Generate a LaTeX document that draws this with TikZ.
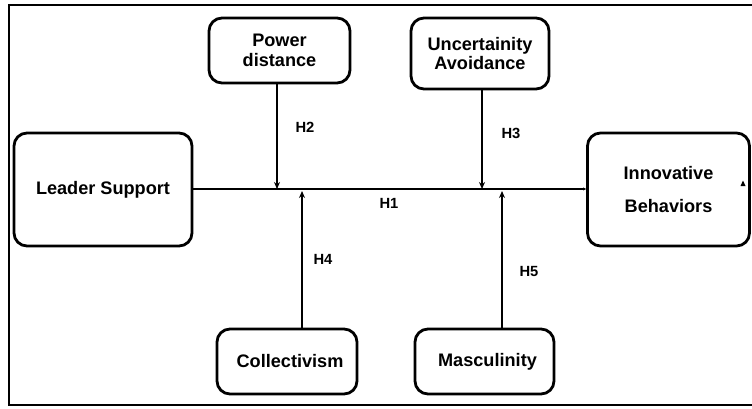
\documentclass[tikz,border=0pt]{standalone}
\usepackage{fontspec}
\setmainfont{Liberation Sans}
\usetikzlibrary{arrows.meta}
\tikzset{
  box/.style={draw, line width=2.8bp, rounded corners=13bp, inner sep=0pt, align=center,
    font=\fontsize{18.2pt}{20pt}\selectfont\bfseries},
  hlabel/.style={font=\fontsize{14.8pt}{16pt}\selectfont\bfseries, inner sep=0pt},
  conn/.style={line width=1.9bp, -{Stealth[length=7bp,width=6bp]}},
  frame/.style={line width=2bp},
}
\begin{document}
\begin{tikzpicture}[x=1bp,y=-1bp]
\useasboundingbox (0,0) rectangle (752,408);
% outer frame (right side cut off)
\draw[frame] (752,4.7) -- (9,4.7) -- (9,405.3) -- (752,405.3);
% boxes
\node[box, minimum width=141bp, minimum height=65bp] (PD) at (279.5,50.5) {Power\\distance};
\node[box, minimum width=138bp, minimum height=71bp] (UA) at (480,53.5) {Uncertainity\\Avoidance};
\node[box, minimum width=178bp, minimum height=113bp] (LS) at (103,189.5) {Leader Support};
\node[box, minimum width=162bp, minimum height=113bp] (IB) at (668.5,189.5) {Innovative\\[14pt]Behaviors};
\node[box, minimum width=140bp, minimum height=65bp] (CO) at (287,361.5) {\hspace*{6bp}Collectivism};
\node[box, minimum width=139bp, minimum height=65bp] (MA) at (484.5,361.5) {\hspace*{6bp}Masculinity};
% small triangle marker
\fill (740.5,186) -- (745.5,186) -- (743,180.5) -- cycle;
% main path
\coordinate (m2) at (277,189);
\coordinate (m4) at (302,191);
\coordinate (m3) at (482,189);
\coordinate (m5) at (502,191);
\draw[line width=1.5bp, -{Stealth[length=3bp,width=3bp]}] (LS.east |- m2) -- (IB.west |- m2);
\draw[conn] (PD.south -| m2) -- (m2);
\draw[conn] (UA.south -| m3) -- (m3);
\draw[conn] (CO.north -| m4) -- (m4);
\draw[conn] (MA.north -| m5) -- (m5);
% labels
\node[hlabel] (h1) at (389,203) {H1};
\node[hlabel] (h2) at (305,127) {H2};
\node[hlabel] (h3) at (511,133) {H3};
\node[hlabel] (h4) at (323,259) {H4};
\node[hlabel] (h5) at (529,271) {H5};
\end{tikzpicture}
\end{document}
